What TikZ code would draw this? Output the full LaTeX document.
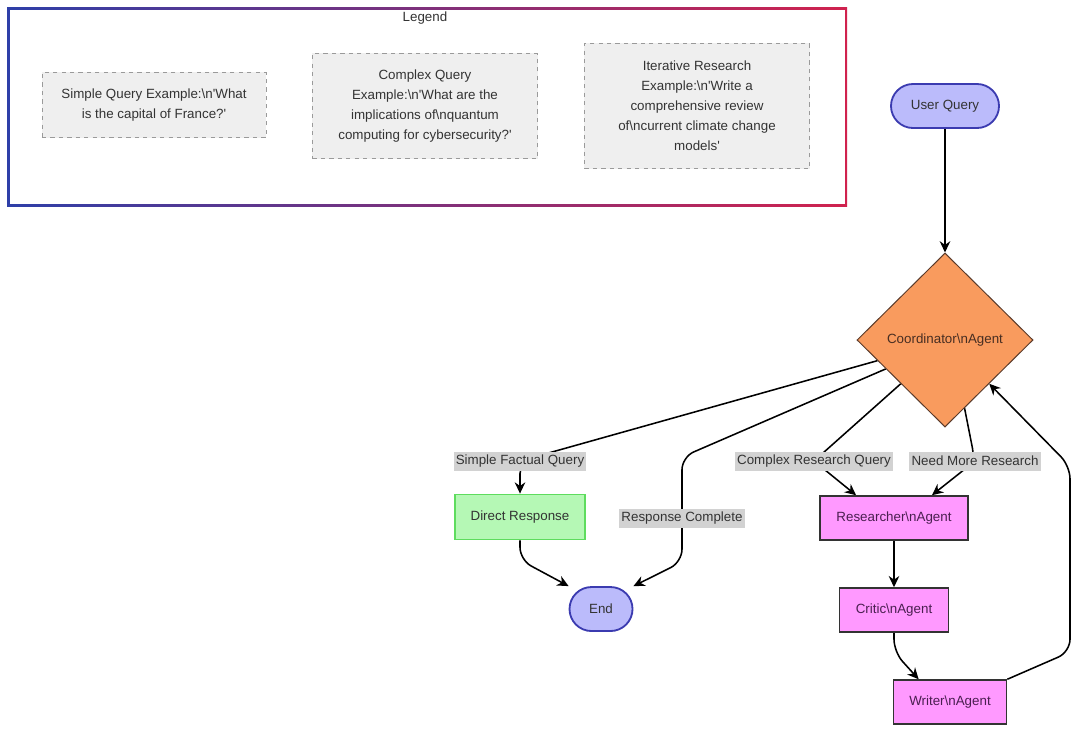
\documentclass[tikz,border=0pt]{standalone}
\usepackage{fontspec}
\setmainfont{Liberation Sans}
\usetikzlibrary{arrows.meta,positioning,calc,shapes.geometric,backgrounds}

\definecolor{txtgray}{HTML}{333333}
\definecolor{legblue}{HTML}{2E3FA8}
\definecolor{legred}{HTML}{D0224E}
\definecolor{boxgray}{HTML}{EFEFEF}
\definecolor{dashgray}{HTML}{9A9A9A}
\definecolor{labgray}{HTML}{D2D2D2}
\definecolor{termfill}{HTML}{BBBBFB}
\definecolor{termline}{HTML}{3B3BB0}
\definecolor{orangefill}{HTML}{F99B5E}
\definecolor{orangeline}{HTML}{5A3A2A}
\definecolor{greenfill}{HTML}{B5F8B5}
\definecolor{greenline}{HTML}{5EDC5E}
\definecolor{pinkfill}{HTML}{FF99FF}
\definecolor{pinktext}{HTML}{4A1F50}

\newcommand{\bsn}{\textbackslash n}
\newcommand{\sq}{\textquotesingle}

\begin{document}
\begin{tikzpicture}[x=0.025cm,y=-0.025cm,>={Stealth[length=8pt,width=7.5pt]},
			node distance=2.3cm,font=\fontsize{9.5}{14.2}\selectfont]
			\tikzstyle{term}=[rectangle,rounded corners=0.55cm,fill=termfill,draw=termline,line width=1.3pt,
				text=txtgray,minimum width=2.7cm,minimum height=1.1cm,inner sep=2pt]
			\tikzstyle{decision}=[diamond,fill=orangefill,draw=orangeline,line width=0.7pt,text=orangeline!80!black,
				minimum width=4.4cm,minimum height=4.35cm,inner sep=0pt]
			\tikzstyle{direct}=[rectangle,fill=greenfill,draw=greenline,line width=1.3pt,text=txtgray,
				minimum width=3.25cm,minimum height=1.125cm]
			\tikzstyle{agent}=[rectangle,fill=pinkfill,draw=txtgray,line width=1.1pt,text=pinktext,
				minimum height=1.1cm]
			\tikzstyle{example}=[rectangle,fill=boxgray,draw=dashgray,dashed,line width=0.5pt,text=txtgray,
				align=center,minimum width=5.6cm]
			\tikzstyle{edgelabel}=[rectangle,fill=labgray,text=txtgray,inner sep=1.5pt,minimum height=0.475cm]
			\tikzstyle{flow}=[->,line width=1.1pt,black]
			
			\useasboundingbox (0,0) rectangle (1080,732);
			
			% legend frame
			\shade[left color=legblue,right color=legred] (7,7) rectangle (847,206);
			\fill[white] (9.5,9.5) rectangle (844.5,203.5);
			\node[text=txtgray] (title) at (425,18) {Legend};
			
			\node[example, minimum height=1.625cm] (L1) at (154,105)
			{Simple Query Example:\bsn\sq What\\is the capital of France?\sq};
			
			\node[example, minimum width=5.625cm, minimum height=2.625cm] (L2) at (425,106)
			{Complex Query\\Example:\bsn\sq What are the\\implications of\bsn quantum\\computing for cybersecurity?\sq};
			
			\node[example, minimum width=5.625cm, minimum height=3.125cm] (L3) at (697,106)
			{Iterative Research\\Example:\bsn\sq Write a\\comprehensive review\\of\bsn current climate change\\models\sq};
			
			% flow chart
			\node[term]     (UQ) at (945,106)		{User Query};
			
			\node[decision] (CO) at (945,340)		{Coordinator\bsn Agent};
			
			\node[direct]   (DR) at (520,517)		{Direct Response};
			
			\node[term, minimum width=1.575cm]  (EN) [below of = DR, xshift=2.025cm]		{End};
			
			\node[agent, minimum width=3.7cm]   (RS) at (894,518)		{Researcher\bsn Agent};
			
			\node[agent, minimum width=2.725cm] (CR) [below of = RS]		{Critic\bsn Agent};
			
			\node[agent, minimum width=2.825cm] (WR) [below of = CR, xshift=1.4cm]		{Writer\bsn Agent};
			
			\node[edgelabel] (lSFQ) at (520,461) {Simple Factual Query};
			\node[edgelabel] (lRC)  at (682,518) {Response Complete};
			\node[edgelabel] (lCRQ) at (814,461) {Complex Research Query};
			\node[edgelabel] (lNMR) at (975,461) {Need More Research};
			
			\begin{scope}[on background layer, rounded corners=9pt]
			\draw[flow] (UQ) -- (CO);
			
			\draw[flow] (CO.197) -- (lSFQ.center) -- (DR.north);
			
			\draw[flow] (DR.south) -- (520,560) -- (EN.north west);
			
			\draw[flow] (CO.206) -- (682,457) -- (682,562) -- (EN.north east);
			
			\draw[flow] (CO.south west) -- (lCRQ.center) -- (RS.149);
			
			\draw[flow] (CO.286) -- (lNMR.center) -- (RS.31);
			
			\draw[flow] (RS) -- (CR);
			
			\draw[flow] (CR.south) -- (894,652) -- (WR.144);
			
			\draw[flow] (WR.north east) -- (1070,652) -- (1070,466) -- (CO.south east);
			\end{scope}
			\end{tikzpicture}
\end{document}
